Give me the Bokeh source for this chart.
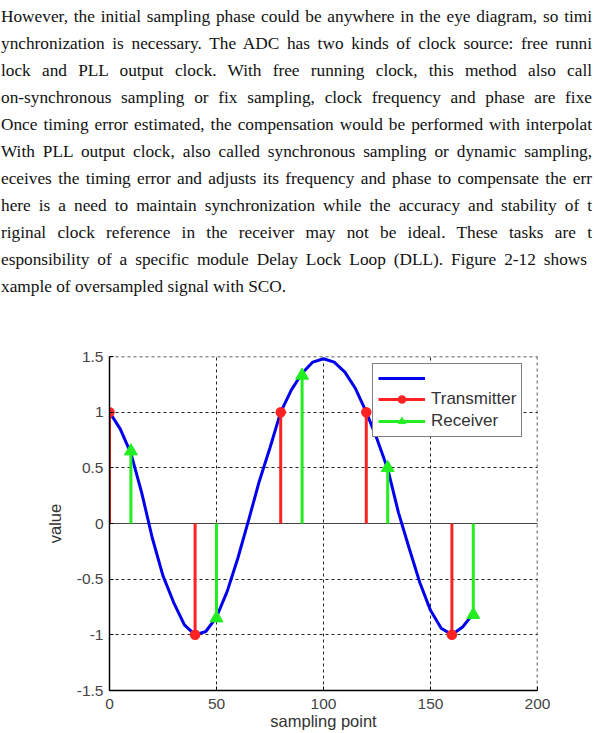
from bokeh.plotting import figure
from bokeh.models import Div, Span, Legend, LegendItem, FixedTicker, Range1d
from bokeh.layouts import column
from bokeh.embed import file_html
from bokeh.resources import INLINE

# ---------------- data ----------------
text_lines = [
    "However, the initial sampling phase could be anywhere in the eye diagram, so timi",
    "ynchronization is necessary. The ADC has two kinds of clock source: free runni",
    "lock and PLL output clock. With free running clock, this method also call",
    "on-synchronous sampling or fix sampling, clock frequency and phase are fixe",
    "Once timing error estimated, the compensation would be performed with interpolat",
    "With PLL output clock, also called synchronous sampling or dynamic sampling,",
    "eceives the timing error and adjusts its frequency and phase to compensate the err",
    "here is a need to maintain synchronization while the accuracy and stability of t",
    "riginal clock reference in the receiver may not be ideal. These tasks are t",
    "esponsibility of a specific module Delay Lock Loop (DLL). Figure 2-12 shows",
    "xample of oversampled signal with SCO.",
]

curve_x = [0, 5, 10, 15, 20, 25, 30, 35, 40, 45, 50, 55, 60, 65, 70, 75, 80, 85,
           90, 95, 100, 105, 110, 115, 120, 125, 130, 135, 140, 145, 150, 155,
           160, 165, 170]
curve_y = [1.0, 0.85, 0.63, 0.28, -0.13, -0.47, -0.71, -0.91, -1.0, -0.97, -0.84,
           -0.61, -0.31, 0.03, 0.38, 0.68, 1.0, 1.2, 1.35, 1.45, 1.48, 1.45, 1.36,
           1.21, 1.0, 0.76, 0.49, 0.1, -0.22, -0.53, -0.78, -0.94, -1.0, -0.93, -0.81]

tx_x = [0, 40, 80, 120, 160]
tx_y = [1.0, -1.0, 1.0, 1.0, -1.0]
rx_x = [10, 50, 90, 130, 170]
rx_y = [0.65, -0.85, 1.33, 0.5, -0.82]

x_ticks = [0, 50, 100, 150, 200]
y_ticks = [-1.5, -1, -0.5, 0, 0.5, 1, 1.5]
y_tick_labels = ["-1.5", "-1", "-0.5", "0", "0.5", "1", "1.5"]

x_title = "sampling point"
y_title = "value"
legend_labels = [" ", "Transmitter", "Receiver"]

# ---------------- text block ----------------
rows = []
for i, line in enumerate(text_lines):
    last = i == len(text_lines) - 1
    align_last = "left" if last else "justify"
    width = "591px" if i != 9 else "586px"
    rows.append(
        f'<div style="white-space:nowrap;height:27px;line-height:27px;'
        f'width:{width};margin-left:1px;text-align:justify;text-align-last:{align_last};">{line}</div>'
    )
html = ('<div style="font-family:\'Liberation Serif\',serif;font-size:17.3px;color:#111;'
        'padding-top:3px;width:594px;">' + "".join(rows) + "</div>")
div = Div(text=html, width=594, height=300, margin=0)

# ---------------- chart ----------------
p = figure(width=594, height=433, output_backend="svg", toolbar_location=None,
           x_range=Range1d(0, 200), y_range=Range1d(-1.5, 1.5),
           min_border_left=109, min_border_right=57, min_border_top=56,
           min_border_bottom=43, margin=0)
p.outline_line_color = None
p.background_fill_color = "white"

for ax in (p.xaxis[0], p.yaxis[0]):
    ax.axis_line_color = "black"
    ax.axis_line_width = 1.5
    ax.major_tick_in = 4
    ax.major_tick_out = 0
    ax.minor_tick_line_color = None
    ax.major_tick_line_color = "black"
    ax.major_label_text_font = "Liberation Sans"
    ax.major_label_text_font_size = "15.5px"
    ax.major_label_text_color = "#444444"
    ax.axis_label_text_font = "Liberation Sans"
    ax.axis_label_text_font_size = "16.5px"
    ax.axis_label_text_font_style = "normal"
    ax.axis_label_text_color = "#333333"

p.xaxis.ticker = FixedTicker(ticks=x_ticks)
p.yaxis.ticker = FixedTicker(ticks=y_ticks)
p.yaxis.major_label_overrides = {t: l for t, l in zip(y_ticks, y_tick_labels)}
p.xaxis.axis_label = x_title
p.yaxis.axis_label = y_title
p.xaxis.major_label_standoff = 8
p.xaxis.axis_label_standoff = 0
p.yaxis.major_label_standoff = 6
p.yaxis.axis_label_standoff = 10

for g in (p.xgrid[0], p.ygrid[0]):
    g.grid_line_color = "#222222"
    g.grid_line_dash = "3 3"
    g.grid_line_width = 1

# top and right edges drawn as dotted lines (grid at range ends)
top_edge = Span(location=1.5, dimension="width", line_color="#222222",
                line_dash="3 3", line_width=1.5, level="underlay")
right_edge = Span(location=200, dimension="height", line_color="#222222",
                  line_dash="3 3", line_width=1.5, level="underlay")
base = Span(location=0, dimension="width", line_color="#444444", line_width=1,
            level="underlay")
p.add_layout(top_edge)
p.add_layout(right_edge)
p.add_layout(base)

curve = p.line(curve_x, curve_y, line_color="#0000ee", line_width=3)
tx_seg = p.segment(x0=tx_x, y0=[0] * len(tx_x), x1=tx_x, y1=tx_y,
                   line_color="#ff2222", line_width=3)
tx_mk = p.scatter(tx_x, tx_y, marker="circle", size=9, fill_color="#ff2222",
                  line_color="#ff2222", line_width=1.5)
rx_seg = p.segment(x0=rx_x, y0=[0] * len(rx_x), x1=rx_x, y1=rx_y,
                   line_color="#22ee22", line_width=3)
rx_mk = p.scatter(rx_x, rx_y, marker="triangle", size=13, fill_color="#22ee22",
                  line_color="#22ee22")

legend = Legend(items=[
    LegendItem(label=legend_labels[0], renderers=[curve]),
    LegendItem(label=legend_labels[1], renderers=[tx_seg, tx_mk]),
    LegendItem(label=legend_labels[2], renderers=[rx_seg, rx_mk]),
], location=(263, 253))
legend.border_line_color = "black"
legend.border_line_width = 1
legend.background_fill_alpha = 1
legend.glyph_width = 47
legend.glyph_height = 18
legend.label_height = 18
legend.spacing = 2
legend.padding = 5
legend.margin = 0
legend.label_standoff = 6
legend.label_text_font = "Liberation Sans"
legend.label_text_font_size = "17px"
legend.label_text_color = "#333333"
p.add_layout(legend, "center")

layout = column(div, p, spacing=0, margin=0)
open("out.html", "w").write(file_html(layout, INLINE))
